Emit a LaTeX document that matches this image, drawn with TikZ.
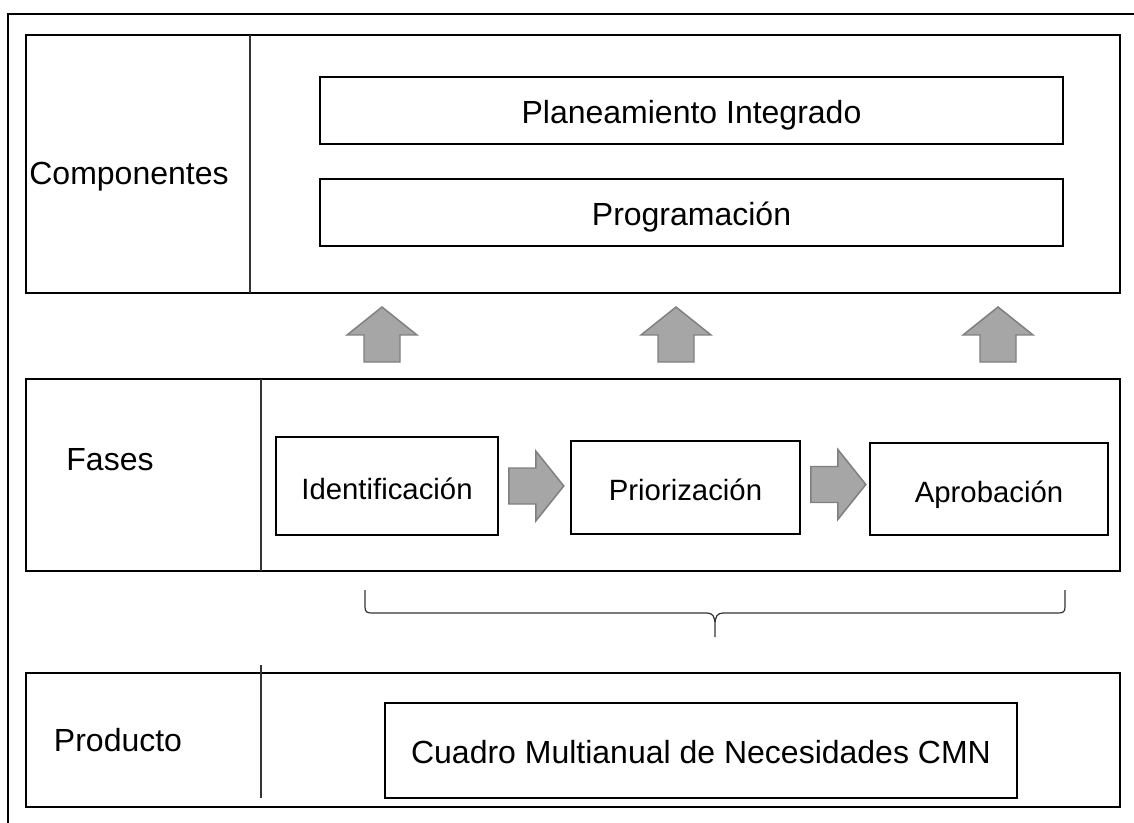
\documentclass[tikz,border=0pt]{standalone}
\usepackage{fontspec}
\setmainfont{Liberation Sans}
\usetikzlibrary{calc}
\definecolor{arrowfill}{HTML}{A6A6A6}
\definecolor{arrowline}{HTML}{7F7F7F}
\tikzset{
  panel/.style={draw, line width=1.3pt, inner sep=0pt},
  box/.style={draw, line width=1.2pt, inner sep=0pt, text height=20pt, text depth=0pt,
    font=\fontsize{24}{29}\selectfont},
  phase/.style={box, font=\fontsize{22}{27}\selectfont},
  tag/.style={font=\fontsize{24}{29}\selectfont},
  divider/.style={line width=0.8pt, draw=black!80},
  blockarrow/.style={fill=arrowfill, draw=arrowline, line width=1.1pt},
  % size of a node in pixels of the reference
  size/.style 2 args={minimum width=#1*0.75pt, minimum height=#2*0.75pt},
}
% block arrow from #1 in direction #2
\newcommand\BlockArrow[2]{%
  \draw[blockarrow, shift={#1}, rotate=#2]
    (0,-18) -- (27,-18) -- (27,-35) -- (55,0) -- (27,35) -- (27,18) -- (0,18) -- cycle;
}

\begin{document}
\begin{tikzpicture}[x=0.75pt, y=-0.75pt]
\useasboundingbox (0,0) rectangle (1134,823);

% outer frame (open to the right and below)
\draw[line width=1.5pt] (8,823) -- (8,14) -- (1134,14);

% the three panels
\node[panel, size={1094}{258}] (comp) at (573,164) {};
\node[panel, size={1094}{192}] (fases) at (573,475) {};
\node[panel, size={1094}{134}] (prod) at (573,740) {};
\draw[divider] (250,35) -- (250,293);
\draw[divider] (261,379) -- (261,571);
\draw[divider] (261,665) -- (261,798);

\node[tag] (tcomp) at (129,177) {Componentes};
\node[tag] (tfases) at (110,460) {Fases};
\node[tag] (tprod) at (118,740) {Producto};

% componentes
\node[box, size={743}{67}] (plan) at (691.5,110.5) {Planeamiento Integrado};
\node[box, size={743}{67}] (prog) at (691.5,212.5) {Programación};

% fases
\node[phase, size={222}{98}] (ident) at (387,486) {Identificación};
\node[phase, size={229}{93}] (prior) at (685.5,487.5) {Priorización};
\node[phase, size={238}{92}] (aprob) at (989,489) {Aprobación};

\BlockArrow{($(ident.east)+(10,0)$)}{0}
\BlockArrow{($(prior.east)+(10,-3)$)}{0}

% arrows up to the componentes
\foreach \x in {382,676,998} { \BlockArrow{(\x,362)}{90} }

% brace under the fases
\coordinate (bl) at (365,590);
\coordinate (br) at (1065,590);
\coordinate (bm) at (715,637);
\draw[line width=0.9pt, draw=black!80]
  (bl) -- (365,607) .. controls (365,612) and (367,613) .. (372,613)
  -- (707,613) .. controls (713,613) and (715,617) .. (715,625) -- (bm)
  (bm) -- (715,625) .. controls (715,617) and (717,613) .. (723,613)
  -- (1058,613) .. controls (1063,613) and (1065,612) .. (1065,607) -- (br);

% producto
\node[box, size={632}{95}] (cmn) at (701,750.5) {Cuadro Multianual de Necesidades CMN};
\end{tikzpicture}
\end{document}
